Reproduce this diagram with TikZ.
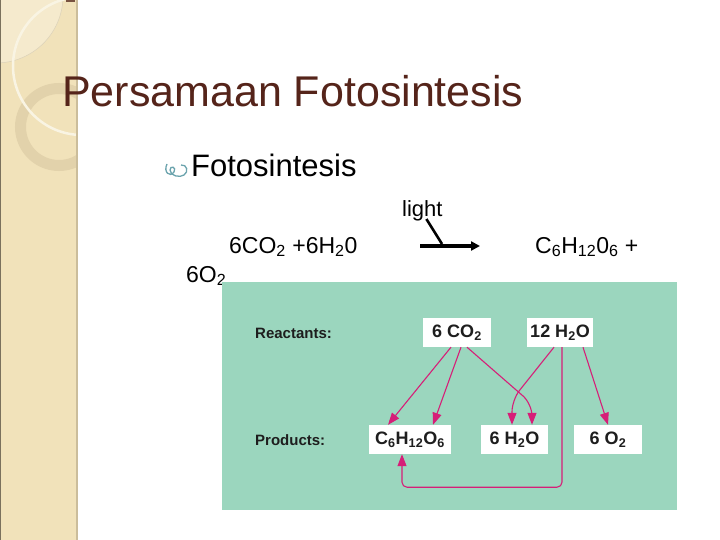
\documentclass[tikz,border=0pt]{standalone}
\usepackage{fontspec}
\setmainfont{Liberation Sans}
\usepackage{xcolor}
\usepackage{tikz}
\usetikzlibrary{positioning,calc,arrows.meta}

\definecolor{sidebeige}{HTML}{F1E2BA}
\definecolor{sidelight}{HTML}{F5EACD}
\definecolor{sideedge}{HTML}{CBBD9B}
\definecolor{ringtan}{HTML}{E2D2AB}
\definecolor{titlebrown}{HTML}{55241A}
\definecolor{bulletteal}{HTML}{6BA3AD}
\definecolor{tealbg}{HTML}{9BD6BE}
\definecolor{arrowpink}{HTML}{D61E78}
\definecolor{labelink}{HTML}{1E1E1E}

\begin{document}
\begin{tikzpicture}[x=1pt, y=-1pt,
  eqn/.style={inner sep=0pt, anchor=base west, font=\fontsize{23}{27}\selectfont},
  rowlabel/.style={inner sep=0pt, anchor=west, text=labelink, font=\fontsize{15}{17}\selectfont\bfseries},
  chembox/.style={fill=white, inner sep=0pt, minimum height=29pt, text=labelink, font=\fontsize{18}{20}\selectfont\bfseries},
  rxn/.style={draw=arrowpink, line width=1.1pt, -{Triangle[length=12pt,width=9pt,fill=arrowpink]}}]
  \useasboundingbox (0,0) rectangle (720,540);

  % Sidebar
  \fill[sidebeige] (0,0) rectangle (77,540);
  \begin{scope}
    \clip (0,0) rectangle (77,540);
    \fill[sidelight] (-4,-4) circle (67);
    \draw[sideedge!70, line width=0.5pt] (-4,-4) circle (67);
    \draw[ringtan, line width=11pt] (59,127) circle (38.5);
    \draw[white!60!sidebeige, line width=2.5pt] (82,66) circle (69);
  \end{scope}
  \draw[sideedge, line width=2pt] (77,0) -- (77,540);
  \draw[sideedge!60!black, line width=0.8pt] (0.4,0) -- (0.4,540);
  \fill[titlebrown!70!sideedge] (66,0) rectangle (75,2);

  % Title
  \node[inner sep=0pt, anchor=base west, text=titlebrown, font=\fontsize{43}{50}\selectfont]
    (title) at (62,107) {Persamaan Fotosintesis};

  % Bullet
  \draw[bulletteal, line width=1.3pt] (167,164) .. controls (163,172) and (170,178) .. (174,172)
    .. controls (177,167) and (170,165) .. (170,170)
    .. controls (170,176) and (180,178) .. (184,175)
    .. controls (189,172) and (187,164) .. (181,165);
  \node[inner sep=0pt, anchor=base west, font=\fontsize{31}{36}\selectfont]
    (bullet) at (191,177) {Fotosintesis};

  % Word equation
  \node[eqn] (lhs) at (229,253) {6CO\textsubscript{2} +6H\textsubscript{2}0};
  \node[eqn] (rhs) at (535,253) {C\textsubscript{6}H\textsubscript{12}0\textsubscript{6} +};
  \node[eqn] (oxy) at (186,282) {6O\textsubscript{2}};
  \node[inner sep=0pt, anchor=base west, font=\fontsize{22}{26}\selectfont] (light) at (402,216) {light};
  \coordinate (arrL) at (420,246);
  \coordinate (arrR) at (480,246);
  \coordinate (lightend) at (442,244);
  \draw[line width=3.5pt, -{Triangle[length=9pt,width=9pt]}] (arrL) -- (arrR);
  \draw[line width=2.6pt] ([xshift=4,yshift=-3]light.base) -- (lightend);

  % Reactants / products panel
  \fill[tealbg] (222,282) rectangle (677,510);
  \node[rowlabel] (reac) at (255,333) {Reactants:};
  \node[rowlabel] (prod) at (255,440) {Products:};

  \node[chembox, minimum width=68pt] (co2) at (457,332.5) {6 CO\textsubscript{2}};
  \node[chembox, minimum width=66pt] (h2o) at (560,332.5) {12 H\textsubscript{2}O};
  \node[chembox, minimum width=82pt] (glc) at (410,439.5) {C\textsubscript{6}H\textsubscript{12}O\textsubscript{6}};
  \node[chembox, minimum width=67pt] (wout) at (514.5,439.5) {6 H\textsubscript{2}O};
  \node[chembox, minimum width=68pt] (o2) at (608,439.5) {6 O\textsubscript{2}};

  % Atom arrows
  \draw[rxn] ([xshift=-6]co2.south) -- ([xshift=-22]glc.north);
  \draw[rxn] ([xshift=4]co2.south) -- ([xshift=23]glc.north);
  \draw[rxn, rounded corners=12pt] ([xshift=10]co2.south) -- ([xshift=17.5,yshift=21]wout.north) -- ([xshift=17.5]wout.north);
  \draw[rxn, rounded corners=12pt] ([xshift=-6]h2o.south) -- ([xshift=-2.5,yshift=25]wout.north) -- ([xshift=-2.5]wout.north);
  \draw[rxn, rounded corners=5pt] ([xshift=2]h2o.south) |- ([xshift=-8,yshift=-33]glc.south) -- ([xshift=-8]glc.south);
  \draw[rxn] ([xshift=23]h2o.south) -- (o2.north);
\end{tikzpicture}
\end{document}
